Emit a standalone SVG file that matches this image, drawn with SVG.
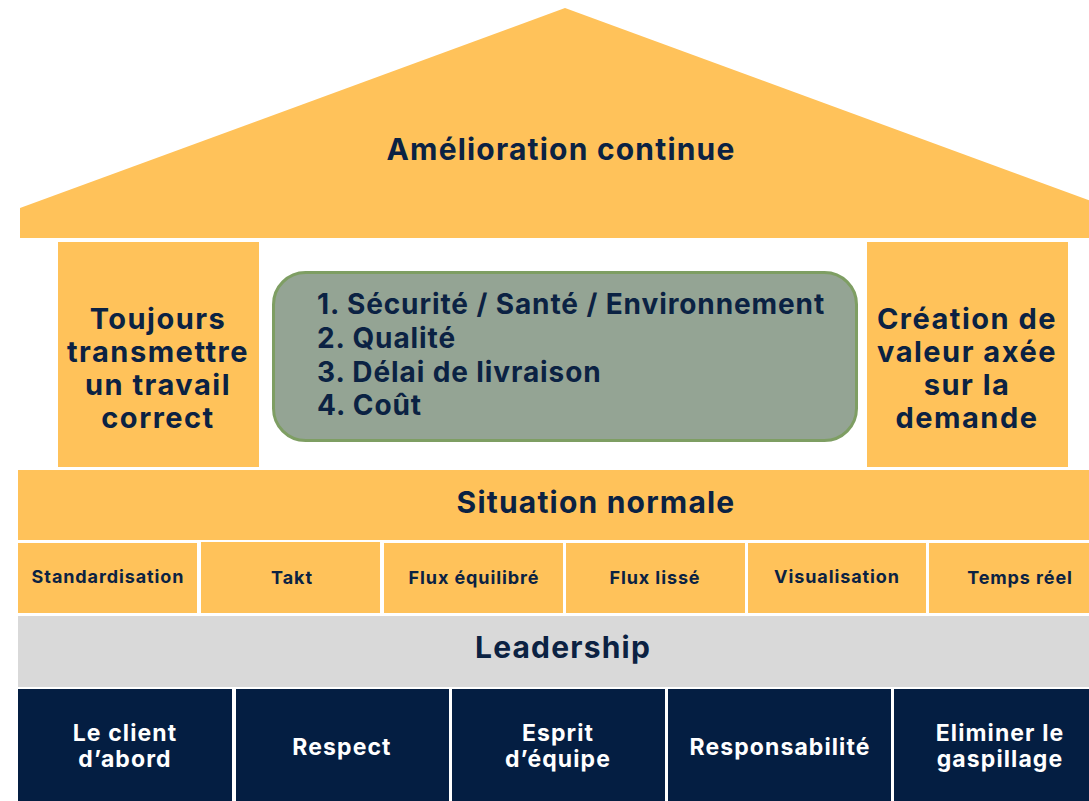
<svg xmlns="http://www.w3.org/2000/svg" width="1089" height="801" viewBox="0 0 1089 801">
<style>
.y{fill:#FFC25A}
.n{fill:#041E42}
.t{font-family:Inter,"Liberation Sans",sans-serif;font-weight:700;fill:#0B2243;text-anchor:middle}
.b{font-size:30px;letter-spacing:1.2px}
.p{font-size:29px;letter-spacing:1.5px}
.l{font-size:28px;letter-spacing:0.9px;text-anchor:start}
.w{font-family:Inter,"Liberation Sans",sans-serif;font-weight:700;fill:#FFFFFF;text-anchor:middle;font-size:23px;letter-spacing:1.1px}
.s{font-size:18px;letter-spacing:0.9px}
</style>
<rect width="1089" height="801" fill="#FFFFFF"/>
<g id="roof">
<polygon class="y" points="20,208 565,8 1110,208 1110,238 20,238"/>
<text class="t b" x="561" y="160">Amélioration continue</text>
</g>
<g id="pillar-left">
<rect class="y" x="58" y="242" width="201" height="225"/>
<text class="t p" x="158" y="329">Toujours</text>
<text class="t p" x="158" y="362">transmettre</text>
<text class="t p" x="158" y="395">un travail</text>
<text class="t p" x="158" y="428">correct</text>
</g>
<g id="priorities">
<rect x="273.5" y="272.5" width="583" height="168" rx="32" fill="#94A494" stroke="#7E9E63" stroke-width="3"/>
<text class="t l" x="317" y="314">1. Sécurité / Santé / Environnement</text>
<text class="t l" x="317" y="348">2. Qualité</text>
<text class="t l" x="317" y="382">3. Délai de livraison</text>
<text class="t l" x="317" y="415">4. Coût</text>
</g>
<g id="pillar-right">
<rect class="y" x="867" y="242" width="201" height="225"/>
<text class="t p" x="967" y="329">Création de</text>
<text class="t p" x="967" y="362">valeur axée</text>
<text class="t p" x="967" y="395">sur la</text>
<text class="t p" x="967" y="428">demande</text>
</g>
<g id="situation-normale">
<rect class="y" x="18" y="470" width="1071" height="70"/>
<text class="t b" x="596" y="513">Situation normale</text>
</g>
<g id="standardisation">
<rect class="y" x="18" y="543" width="179" height="70"/>
<text class="t s" x="108" y="583">Standardisation</text>
</g>
<g id="takt">
<rect class="y" x="201" y="542" width="179" height="71"/>
<text class="t s" x="292" y="584">Takt</text>
</g>
<g id="flux-equilibre">
<rect class="y" x="384" y="543" width="179" height="70"/>
<text class="t s" x="474" y="584">Flux équilibré</text>
</g>
<g id="flux-lisse">
<rect class="y" x="566" y="543" width="179" height="70"/>
<text class="t s" x="655" y="584">Flux lissé</text>
</g>
<g id="visualisation">
<rect class="y" x="748" y="543" width="178" height="70"/>
<text class="t s" x="837" y="583">Visualisation</text>
</g>
<g id="temps-reel">
<rect class="y" x="929" y="543" width="160" height="70"/>
<text class="t s" x="1020" y="584">Temps réel</text>
</g>
<g id="leadership">
<rect x="18" y="616" width="1071" height="71" fill="#D9D9D9"/>
<text class="t b" x="563" y="658">Leadership</text>
</g>
<g id="client">
<rect class="n" x="18" y="689" width="214" height="112"/>
<text class="w" x="125" y="741">Le client</text>
<text class="w" x="125" y="767">d’abord</text>
</g>
<g id="respect">
<rect class="n" x="236" y="689" width="213" height="112"/>
<text class="w" x="342" y="755">Respect</text>
</g>
<g id="esprit">
<rect class="n" x="452" y="689" width="213" height="112"/>
<text class="w" x="558" y="741">Esprit</text>
<text class="w" x="558" y="767">d’équipe</text>
</g>
<g id="responsabilite">
<rect class="n" x="668" y="689" width="223" height="112"/>
<text class="w" x="780" y="755">Responsabilité</text>
</g>
<g id="gaspillage">
<rect class="n" x="894" y="689" width="195" height="112"/>
<text class="w" x="1000" y="741">Eliminer le</text>
<text class="w" x="1000" y="767">gaspillage</text>
</g>
<g id="connectors"/>
</svg>
